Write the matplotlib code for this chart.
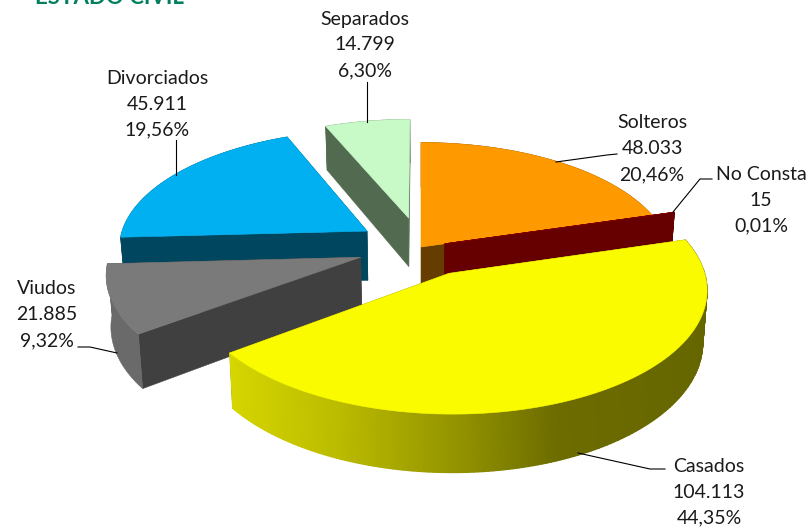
import numpy as np
import matplotlib
matplotlib.use('Agg')
import matplotlib.pyplot as plt
from matplotlib.colors import LinearSegmentedColormap

plt.rcParams['font.family'] = ['Lato', 'DejaVu Sans']

# data, clockwise from 12 o'clock
categories = ['Solteros', 'No Consta', 'Casados', 'Viudos', 'Divorciados', 'Separados']
values = [48033, 15, 104113, 21885, 45911, 14799]
percents = [20.46, 0.01, 44.35, 9.32, 19.56, 6.30]

# how far each slice is pulled out
explode = [0.0, 0.10, 0.245, 0.255, 0.26, 0.26]
top_colors = ['#FF9900', '#800000', '#FBFB00', '#7A7A7A', '#00B0F0', '#C8FAC8']
cut_colors = ['#663D00', '#660000', '#666600', '#404040', '#00465F', '#526A50']
arc_colors = ['#663D00', '#660000', None, '#6A6A6A', '#00465F', '#526A50']

# painter's order, back to front
draw_order = [5, 4, 0, 1, 3, 2]

# label centre x, first line y, leader line
label_x = [652, 761, 709, 47, 157, 365]
label_y = [123, 174, 466, 289, 78, 19]
leader_x = [[617, 607, 556], [712, 700, 673], [665, 650, 578], [78, 90, 117], [176, 176], [367, 367]]
leader_y = [[154, 155, 162], [179, 179, 212], [469, 469, 453], [347, 347, 353], [140, 175], [82, 122]]

CX, CY = 421, 247
RX, RY = 249, 117
PERSP = 0.12
DEPTH = 50
SHRINK = 0.015

# side of the big slice darkens to the right
side_cmap = LinearSegmentedColormap.from_list(
  'side', [(0.0, '#D6D600'), (0.208, '#BEBE00'), (0.458, '#969600'), (0.687, '#6C6C00'), (1.0, '#666600')])


def project(wx, wy, low=False):
  d = 1 + PERSP * wy
  px = RX * wx / d
  py = RY * wy / d
  if low:
    return CX + px * (1 - SHRINK), CY - py + DEPTH / d
  return CX + px, CY - py


def band(ax, ring, color):
  # extruded strip under a run of top-face points
  pts = [project(*p) for p in ring] + [project(*p, low=True) for p in ring[::-1]]
  ax.fill([p[0] for p in pts], [p[1] for p in pts], color=color, lw=0.4, zorder=2)


fig = plt.figure(figsize=(8.10, 5.29), dpi=100)
ax = fig.add_axes([0, 0, 1, 1])
ax.axis('off')

edges = np.concatenate([[0], np.cumsum(values)]) / np.sum(values) * 2 * np.pi

for i in draw_order:
  t0, t1 = edges[i], edges[i + 1]
  mid = (t0 + t1) / 2
  ox, oy = explode[i] * np.sin(mid), explode[i] * np.cos(mid)
  ts = np.linspace(t0, t1, max(3, int(np.degrees(t1 - t0))))
  arc = [(ox + np.sin(t), oy + np.cos(t)) for t in ts]
  apex = (ox, oy)

  band(ax, [apex, arc[0]], cut_colors[i])
  band(ax, [apex, arc[-1]], cut_colors[i])
  if arc_colors[i] is None:
    up = np.array([project(*p) for p in arc])
    lo = np.array([project(*p, low=True) for p in arc])
    X = np.vstack([up[:, 0], lo[:, 0]])
    Y = np.vstack([up[:, 1], lo[:, 1]])
    ax.pcolormesh(X, Y, (X - 230) / 480, cmap=side_cmap, vmin=0, vmax=1,
                  shading='gouraud', zorder=2)
  else:
    band(ax, arc, arc_colors[i])

  pts = [project(*p) for p in [apex] + arc]
  ax.fill([p[0] for p in pts], [p[1] for p in pts], color=top_colors[i], lw=0.4, zorder=2)

for i in draw_order:
  ax.plot(leader_x[i], leader_y[i], color='black', lw=0.8, zorder=3)
  val = f'{values[i]:,}'.replace(',', '.')
  pct = f'{percents[i]:.2f}'.replace('.', ',') + '%'
  for n, line in enumerate([categories[i], val, pct]):
    ax.text(label_x[i], label_y[i] + 26 * n, line, ha='center', va='center',
            fontsize=14, color='#1a1a1a', zorder=4)

ax.text(35, -3, 'ESTADO CIVIL', color='#00805F', fontsize=16, fontweight='bold',
        ha='left', va='center', zorder=4)

ax.set_xlim(0, 810)
ax.set_ylim(529, 0)
fig.savefig('out.png', dpi=100)
